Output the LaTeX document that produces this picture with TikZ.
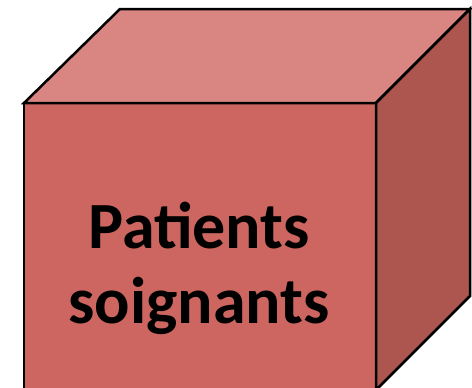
\documentclass[tikz,border=0pt]{standalone}
\usepackage{fontspec}
\setmainfont{Carlito}
\definecolor{frontred}{RGB}{205,102,96}
\definecolor{topred}{RGB}{217,134,130}
\definecolor{sidered}{RGB}{173,86,80}
\begin{document}
\begin{tikzpicture}[x=1pt, y=-1pt, face/.style={draw=black, line width=2.5pt, line join=miter}]
    \useasboundingbox (0,0) rectangle (472,388);
    \clip (0,0) rectangle (472,388);
    \coordinate (a) at (24,103);
    \coordinate (b) at (376,103);
    \coordinate (c) at (376,390);
    \coordinate (d) at (24,390);
    \coordinate (e) at (120,9);
    \coordinate (f) at (470,9);
    \coordinate (g) at (470,296);
    \fill[frontred] (a) -- (b) -- (c) -- (d) -- cycle;
    \draw[face, fill=topred] (a) -- (e) -- (f) -- (b) -- cycle;
    \draw[face, fill=sidered] (b) -- (f) -- (g) -- (c) -- cycle;
    \draw[face] (a) -- (b) -- (c) -- (d) -- cycle;
    \node[font=\fontsize{66}{75}\selectfont\bfseries, align=center] (label) at (199,268) {Patients\\soignants};
\end{tikzpicture}
\end{document}
